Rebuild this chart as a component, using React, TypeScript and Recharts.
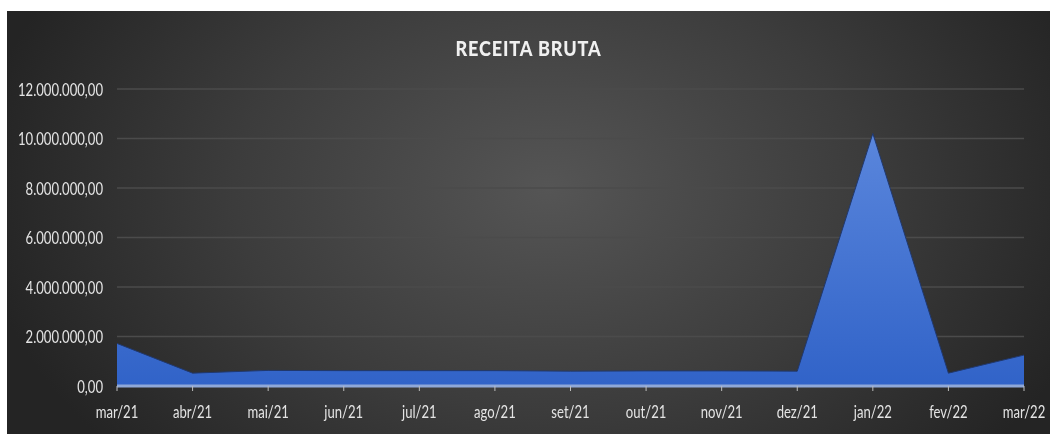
import { AreaChart, Area, XAxis, YAxis, CartesianGrid } from "recharts";

const months = [
  "mar/21", "abr/21", "mai/21", "jun/21", "jul/21", "ago/21", "set/21",
  "out/21", "nov/21", "dez/21", "jan/22", "fev/22", "mar/22",
];
const receita = [
  1720000, 520000, 630000, 620000, 620000, 620000, 600000,
  610000, 610000, 600000, 10200000, 520000, 1250000,
];
const yTicks = [0, 2000000, 4000000, 6000000, 8000000, 10000000, 12000000];

const data = months.map((m, i) => ({ month: m, receita: receita[i] }));

const fmt = (v: number) => {
  const [int, dec] = v.toFixed(2).split(".");
  return int.replace(/\B(?=(\d{3})+(?!\d))/g, ".") + "," + dec;
};

const font = "Lato, 'Open Sans', sans-serif";
const labelColor = "#e4e4e4";
const squeeze = 0.77;

const XTick = (props: any) => {
  const { x, y, payload } = props;
  return (
    <g transform={`translate(${x},${y})`}>
      <text
        transform={`scale(${squeeze},1)`}
        textAnchor="middle"
        dy="0.9em"
        fill={labelColor}
        fontSize={17}
        fontFamily={font}
      >
        {payload.value}
      </text>
    </g>
  );
};

const YTick = (props: any) => {
  const { x, y, payload } = props;
  return (
    <g transform={`translate(${x},${y})`}>
      <text
        transform={`scale(${squeeze},1)`}
        textAnchor="end"
        dy="0.4em"
        fill={labelColor}
        fontSize={17}
        fontFamily={font}
      >
        {fmt(payload.value)}
      </text>
    </g>
  );
};

export default function App() {
  return (
    <div
      style={{
        position: "fixed",
        left: 7,
        top: 11,
        width: 1043,
        height: 423,
        background:
          "radial-gradient(ellipse 55% 95% at 52% 42%, #555555 0%, #3c3c3c 55%, #242424 100%)",
        fontFamily: font,
      }}
    >
      <div
        style={{
          position: "absolute",
          top: 24,
          left: 0,
          width: 1043,
          textAlign: "center",
          color: "#f0f0f0",
          fontWeight: 900,
          fontSize: 21,
          letterSpacing: 1,
          transform: "scaleX(0.86)",
        }}
      >
        RECEITA BRUTA
      </div>
      <AreaChart
        width={1043}
        height={423}
        data={data}
        margin={{ top: 78, right: 26, left: 0, bottom: 18 }}
      >
        <defs>
          <linearGradient id="fillBlue" x1="0" y1="0" x2="0" y2="1">
            <stop offset="0%" stopColor="#5a86dc" />
            <stop offset="100%" stopColor="#3163c8" />
          </linearGradient>
        </defs>
        <CartesianGrid vertical={false} stroke="#4b4b4b" strokeWidth={1.5} />
        <XAxis
          dataKey="month"
          interval={0}
          padding={{ left: 0, right: 0 }}
          axisLine={{ stroke: "#8fa8d8", strokeWidth: 3 }}
          tickLine={{ stroke: "#bdbdbd" }}
          tickSize={5}
          tickMargin={12}
          tick={<XTick />}
        />
        <YAxis
          width={110}
          domain={[0, 12000000]}
          ticks={yTicks}
          axisLine={false}
          tickLine={false}
          tickSize={0}
          tickMargin={14}
          tick={<YTick />}
        />
        <Area
          type="linear"
          dataKey="receita"
          stroke="#20386e"
          strokeWidth={1}
          fill="url(#fillBlue)"
          fillOpacity={1}
          isAnimationActive={false}
        />
      </AreaChart>
    </div>
  );
}
